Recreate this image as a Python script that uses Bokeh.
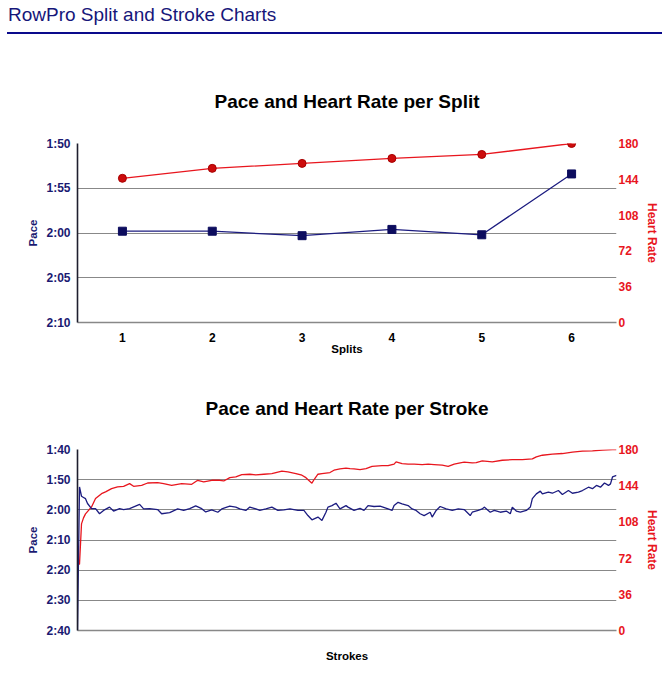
from bokeh.plotting import figure
from bokeh.models import Range1d, LinearAxis, FixedTicker, Div
from bokeh.layouts import column
from bokeh.embed import file_html
from bokeh.resources import INLINE

# ---------------- data ----------------
splits = [1, 2, 3, 4, 5, 6]
split_pace = [119.8, 119.8, 120.3, 119.6, 120.2, 113.4]   # seconds per 500m
split_hr = [145, 155, 160, 165, 169, 180]

split_pace_ticks = [110, 115, 120, 125, 130]
split_pace_labels = ["1:50", "1:55", "2:00", "2:05", "2:10"]

hr_ticks = [0, 36, 72, 108, 144, 180]

stroke_pace_n = [1, 2, 3, 4, 5, 6, 8, 10, 12, 14, 17, 19, 22, 24, 27, 32, 34, 37, 41, 43,
                 47, 51, 54, 57, 60, 63, 65, 68, 71, 73, 77, 80, 82, 85, 87, 90, 92, 95, 98, 101,
                 104, 107, 111, 114, 116, 118, 121, 123, 125, 126, 128, 130, 132, 135, 136, 139,
                 142, 144, 146, 149, 152, 156, 158, 159, 161, 163, 166, 168, 170, 172, 174, 177,
                 178, 180, 182, 185, 188, 191, 194, 197, 198, 201, 203, 204, 207, 209, 212, 215,
                 217, 218, 220, 222, 225, 227, 228, 230, 232, 233, 236, 238, 241, 243, 246, 248,
                 251, 253, 256, 258, 260, 262, 264, 266, 267, 268, 270]
stroke_pace = [160, 112.4, 115.5, 115.9, 116.3, 117.9, 119.6, 119.6, 121.3, 120.2, 119.1, 120.4,
               119.6, 119.9, 119.6, 118.2, 119.7, 119.6, 119.9, 121.3, 120.9, 119.7, 120.2, 119.6,
               118.7, 119.6, 120.7, 120.0, 120.8, 119.7, 118.8, 119.1, 119.7, 120.2, 119.1, 119.7,
               120.2, 119.7, 119.1, 120.2, 120.0, 119.7, 120.2, 120.2, 121.9, 123.3, 122.4, 123.5,
               120.8, 119.1, 118.6, 117.8, 119.7, 118.6, 119.1, 120.2, 119.5, 120.2, 118.6, 118.9,
               118.8, 119.7, 120.2, 118.6, 117.5, 118.0, 118.6, 119.7, 120.2, 121.3, 121.9, 120.8,
               122.4, 120.2, 118.9, 119.7, 120.2, 119.7, 119.9, 121.9, 120.8, 120.2, 119.7, 119.1,
               120.8, 120.2, 120.8, 120.4, 121.3, 119.1, 120.4, 120.8, 120.2, 119.1, 116.3, 114.7,
               113.8, 114.7, 114.1, 114.5, 113.6, 114.9, 113.6, 114.5, 114.1, 113.6, 112.5, 113.0,
               111.9, 112.5, 111.1, 111.9, 111.4, 109.1, 108.6]

stroke_hr_n = [1, 2, 3, 4, 5, 8, 10, 13, 15, 18, 21, 24, 27, 29, 33, 36, 41, 44, 48, 53, 58, 61,
               64, 68, 72, 74, 77, 80, 83, 87, 90, 94, 98, 103, 106, 110, 113, 115, 118, 119, 121,
               123, 127, 129, 132, 135, 137, 139, 142, 145, 148, 153, 156, 159, 160, 163, 166, 169,
               173, 176, 179, 183, 186, 189, 192, 194, 198, 200, 203, 208, 213, 218, 223, 228,
               230, 233, 238, 243, 248, 253, 258, 263, 268, 270]
stroke_hr = [65.7, 66, 106, 112, 116, 122.9, 131.2, 136.1, 137.8, 141.1, 142.8, 143.4, 146.1,
             143.4, 144.4, 146.7, 147.1, 146.1, 144.4, 146.1, 145.4, 149.4, 147.7, 149.4, 149.4,
             148.7, 152, 152.7, 155, 155.4, 154.7, 155.4, 156.1, 158.4, 157.7, 156.1, 154.4, 152,
             146.5, 149.9, 155.4, 156.1, 157.1, 159.4, 160.7, 161.4, 161, 160.7, 160, 161, 163.3,
             164, 164, 165.4, 167.7, 166, 165.4, 165.4, 165, 165.4, 165, 164.4, 163.3, 165.4,
             166.7, 167.4, 166.7, 167, 168.6, 167.7, 169.3, 169.9, 169.9, 170.6, 172.6, 174.3,
             175.3, 176, 177.3, 178.3, 178.6, 179.3, 180, 180]

stroke_pace_ticks = [100, 110, 120, 130, 140, 150, 160]
stroke_pace_labels = ["1:40", "1:50", "2:00", "2:10", "2:20", "2:30", "2:40"]

# ---------------- style ----------------
FONT = "Liberation Sans"
NAVY = "#1a1a72"
NAVY_LINE = "#1c1c80"
RED = "#e8161e"
GRID = "#888888"


def no_ticks(ax):
    ax.major_tick_line_color = None
    ax.minor_tick_line_color = None
    ax.major_tick_out = 0
    ax.major_tick_in = 0
    ax.minor_tick_out = 0
    ax.minor_tick_in = 0


def style_axes(p, pace_ticks, pace_labels, x_ticks, x_label, x_standoff):
    p.outline_line_color = None
    p.background_fill_color = "white"
    p.border_fill_color = "white"
    p.xgrid.visible = False
    p.ygrid.ticker = FixedTicker(ticks=pace_ticks)
    p.ygrid.grid_line_color = GRID
    p.ygrid.grid_line_width = 1

    ya = p.yaxis[0]
    ya.ticker = FixedTicker(ticks=pace_ticks)
    ya.major_label_overrides = dict(zip(pace_ticks, pace_labels))
    ya.axis_label = "Pace"
    ya.axis_label_text_color = NAVY
    ya.axis_label_text_font = FONT
    ya.axis_label_text_font_style = "bold"
    ya.axis_label_text_font_size = "11.5px"
    ya.axis_label_standoff = 4
    ya.major_label_text_color = NAVY
    ya.major_label_text_font = FONT
    ya.major_label_text_font_style = "bold"
    ya.major_label_text_font_size = "12px"
    ya.major_label_standoff = 7
    no_ticks(ya)
    ya.axis_line_color = "#1e1e2e"
    ya.axis_line_width = 1.6

    xa = p.xaxis[0]
    xa.ticker = FixedTicker(ticks=x_ticks)
    xa.axis_label = x_label
    xa.axis_label_text_color = "black"
    xa.axis_label_text_font = FONT
    xa.axis_label_text_font_style = "bold"
    xa.axis_label_text_font_size = "11.5px"
    xa.axis_label_standoff = x_standoff
    xa.major_label_text_color = "black"
    xa.major_label_text_font = FONT
    xa.major_label_text_font_style = "bold"
    xa.major_label_text_font_size = "12px"
    xa.major_label_standoff = 10
    no_ticks(xa)
    xa.axis_line_color = GRID
    xa.axis_line_width = 1.5

    ra = LinearAxis(y_range_name="hr", ticker=FixedTicker(ticks=hr_ticks),
                    axis_label="Heart Rate")
    ra.axis_label_text_color = RED
    ra.axis_label_text_font = FONT
    ra.axis_label_text_font_style = "bold"
    ra.axis_label_text_font_size = "12px"
    ra.axis_label_standoff = 3
    ra.major_label_text_color = RED
    ra.major_label_text_font = FONT
    ra.major_label_text_font_style = "bold"
    ra.major_label_text_font_size = "12px"
    ra.major_label_standoff = 2
    no_ticks(ra)
    ra.axis_line_color = None
    p.add_layout(ra, "right")


def style_title(p, text, standoff):
    p.title.text = text
    p.title.align = "center"
    p.title.text_font = FONT
    p.title.text_font_style = "bold"
    p.title.text_font_size = "19px"
    p.title.text_color = "black"
    p.title.standoff = standoff


# ---------------- header ----------------
header = Div(
    text=('<div style="font-family:\'Liberation Sans\',Arial,sans-serif;font-size:19px;'
          'color:#16167a;padding:4px 0 0 8px;line-height:22px;white-space:nowrap;">'
          'RowPro Split and Stroke Charts</div>'
          '<div style="margin:6px 0 0 7px;width:655px;height:2px;background:#0a0a8c;"></div>'),
    width=671, height=45, margin=0)

# ---------------- split chart ----------------
p1 = figure(width=671, height=317, output_backend="svg", toolbar_location=None,
            x_range=Range1d(0.5, 6.5), y_range=Range1d(130, 110),
            min_border_left=75, min_border_right=54, min_border_top=98, min_border_bottom=40)
p1.extra_y_ranges = {"hr": Range1d(0, 180)}
style_title(p1, "Pace and Heart Rate per Split", 63)
style_axes(p1, split_pace_ticks, split_pace_labels, splits, "Splits", -2)

p1.line(splits, split_hr, y_range_name="hr", line_color=RED, line_width=1.3)
p1.scatter(splits, split_hr, y_range_name="hr", marker="circle", size=8,
           fill_color="#cc0c0c", line_color="#a80000", line_width=1)
p1.line(splits, split_pace, line_color=NAVY_LINE, line_width=1.3)
p1.scatter(splits, split_pace, marker="square", size=8,
           fill_color="#0c0c5e", line_color="#0c0c5e")

# ---------------- stroke chart ----------------
p2 = figure(width=671, height=312, output_backend="svg", toolbar_location=None,
            x_range=Range1d(1, 270), y_range=Range1d(160, 100),
            min_border_left=77, min_border_right=55, min_border_top=87, min_border_bottom=44)
p2.extra_y_ranges = {"hr": Range1d(0, 180)}
style_title(p2, "Pace and Heart Rate per Stroke", 61)
style_axes(p2, stroke_pace_ticks, stroke_pace_labels, [], "Strokes", 19)

p2.line(stroke_hr_n, stroke_hr, y_range_name="hr", line_color=RED, line_width=1.3)
p2.line(stroke_pace_n, stroke_pace, line_color=NAVY_LINE, line_width=1.3)

layout = column(header, p1, p2, spacing=0)

open("out.html", "w").write(file_html(layout, INLINE))
